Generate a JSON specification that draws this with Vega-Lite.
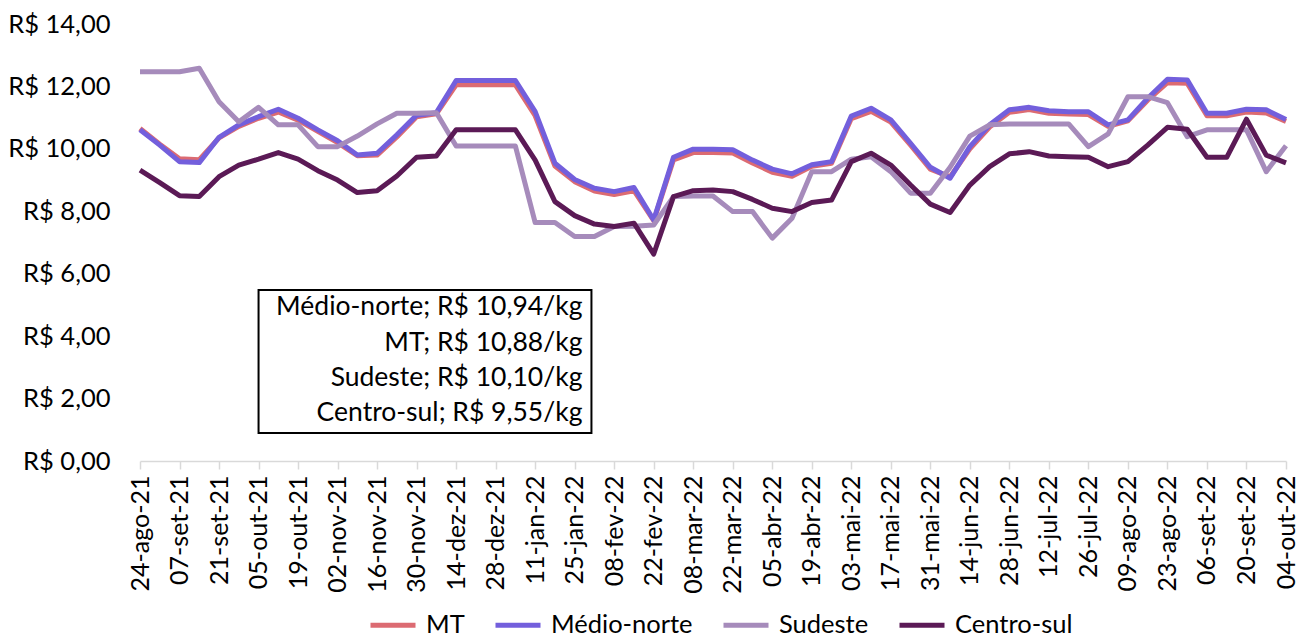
{
  "$schema": "https://vega.github.io/schema/vega-lite/v6.json",
  "width": 1146,
  "height": 437,
  "autosize": {"type": "none"},
  "padding": {"left": 140, "top": 24, "right": 17, "bottom": 180},
  "background": "white",
  "config": {
    "view": {"stroke": null},
    "font": "Lato",
    "axis": {"labelFont": "Lato", "labelColor": "#000000", "grid": false, "title": null}
  },
  "datasets": {
    "precos": [
      {"d": "24-ago-21", "MT": 10.65, "Médio-norte": 10.61, "Sudeste": 12.47, "Centro-sul": 9.32},
      {"d": "31-ago-21", "MT": 10.15, "Médio-norte": 10.12, "Sudeste": 12.47, "Centro-sul": 8.92},
      {"d": "07-set-21", "MT": 9.68, "Médio-norte": 9.59, "Sudeste": 12.47, "Centro-sul": 8.50},
      {"d": "14-set-21", "MT": 9.65, "Médio-norte": 9.56, "Sudeste": 12.58, "Centro-sul": 8.47},
      {"d": "21-set-21", "MT": 10.35, "Médio-norte": 10.37, "Sudeste": 11.51, "Centro-sul": 9.11},
      {"d": "28-set-21", "MT": 10.72, "Médio-norte": 10.77, "Sudeste": 10.87, "Centro-sul": 9.48},
      {"d": "05-out-21", "MT": 10.98, "Médio-norte": 11.03, "Sudeste": 11.33, "Centro-sul": 9.67},
      {"d": "12-out-21", "MT": 11.18, "Médio-norte": 11.27, "Sudeste": 10.77, "Centro-sul": 9.88},
      {"d": "19-out-21", "MT": 10.92, "Médio-norte": 10.98, "Sudeste": 10.77, "Centro-sul": 9.67},
      {"d": "26-out-21", "MT": 10.56, "Médio-norte": 10.61, "Sudeste": 10.07, "Centro-sul": 9.30},
      {"d": "02-nov-21", "MT": 10.20, "Médio-norte": 10.26, "Sudeste": 10.07, "Centro-sul": 9.00},
      {"d": "09-nov-21", "MT": 9.78, "Médio-norte": 9.80, "Sudeste": 10.41, "Centro-sul": 8.60},
      {"d": "16-nov-21", "MT": 9.80, "Médio-norte": 9.86, "Sudeste": 10.80, "Centro-sul": 8.66},
      {"d": "23-nov-21", "MT": 10.38, "Médio-norte": 10.45, "Sudeste": 11.14, "Centro-sul": 9.13},
      {"d": "30-nov-21", "MT": 11.03, "Médio-norte": 11.08, "Sudeste": 11.14, "Centro-sul": 9.73},
      {"d": "07-dez-21", "MT": 11.12, "Médio-norte": 11.16, "Sudeste": 11.16, "Centro-sul": 9.77},
      {"d": "14-dez-21", "MT": 12.05, "Médio-norte": 12.19, "Sudeste": 10.09, "Centro-sul": 10.61},
      {"d": "21-dez-21", "MT": 12.05, "Médio-norte": 12.19, "Sudeste": 10.09, "Centro-sul": 10.61},
      {"d": "28-dez-21", "MT": 12.05, "Médio-norte": 12.19, "Sudeste": 10.09, "Centro-sul": 10.61},
      {"d": "04-jan-22", "MT": 12.05, "Médio-norte": 12.19, "Sudeste": 10.09, "Centro-sul": 10.61},
      {"d": "11-jan-22", "MT": 11.06, "Médio-norte": 11.19, "Sudeste": 7.64, "Centro-sul": 9.64},
      {"d": "18-jan-22", "MT": 9.45, "Médio-norte": 9.54, "Sudeste": 7.64, "Centro-sul": 8.31},
      {"d": "25-jan-22", "MT": 8.95, "Médio-norte": 9.02, "Sudeste": 7.19, "Centro-sul": 7.86},
      {"d": "01-fev-22", "MT": 8.65, "Médio-norte": 8.74, "Sudeste": 7.19, "Centro-sul": 7.59},
      {"d": "08-fev-22", "MT": 8.54, "Médio-norte": 8.63, "Sudeste": 7.51, "Centro-sul": 7.51},
      {"d": "15-fev-22", "MT": 8.66, "Médio-norte": 8.76, "Sudeste": 7.52, "Centro-sul": 7.62},
      {"d": "22-fev-22", "MT": 7.70, "Médio-norte": 7.72, "Sudeste": 7.56, "Centro-sul": 6.63},
      {"d": "01-mar-22", "MT": 9.65, "Médio-norte": 9.73, "Sudeste": 8.47, "Centro-sul": 8.47},
      {"d": "08-mar-22", "MT": 9.88, "Médio-norte": 9.99, "Sudeste": 8.49, "Centro-sul": 8.66},
      {"d": "15-mar-22", "MT": 9.88, "Médio-norte": 9.99, "Sudeste": 8.49, "Centro-sul": 8.68},
      {"d": "22-mar-22", "MT": 9.87, "Médio-norte": 9.97, "Sudeste": 7.99, "Centro-sul": 8.63},
      {"d": "29-mar-22", "MT": 9.55, "Médio-norte": 9.64, "Sudeste": 7.99, "Centro-sul": 8.38},
      {"d": "05-abr-22", "MT": 9.25, "Médio-norte": 9.35, "Sudeste": 7.14, "Centro-sul": 8.10},
      {"d": "12-abr-22", "MT": 9.12, "Médio-norte": 9.20, "Sudeste": 7.78, "Centro-sul": 7.99},
      {"d": "19-abr-22", "MT": 9.44, "Médio-norte": 9.49, "Sudeste": 9.27, "Centro-sul": 8.28},
      {"d": "26-abr-22", "MT": 9.54, "Médio-norte": 9.59, "Sudeste": 9.27, "Centro-sul": 8.36},
      {"d": "03-mai-22", "MT": 10.97, "Médio-norte": 11.05, "Sudeste": 9.67, "Centro-sul": 9.59},
      {"d": "10-mai-22", "MT": 11.20, "Médio-norte": 11.30, "Sudeste": 9.75, "Centro-sul": 9.86},
      {"d": "17-mai-22", "MT": 10.86, "Médio-norte": 10.93, "Sudeste": 9.27, "Centro-sul": 9.48},
      {"d": "24-mai-22", "MT": 10.12, "Médio-norte": 10.18, "Sudeste": 8.58, "Centro-sul": 8.84},
      {"d": "31-mai-22", "MT": 9.35, "Médio-norte": 9.41, "Sudeste": 8.58, "Centro-sul": 8.23},
      {"d": "07-jun-22", "MT": 9.10, "Médio-norte": 9.06, "Sudeste": 9.41, "Centro-sul": 7.96},
      {"d": "14-jun-22", "MT": 10.00, "Médio-norte": 10.07, "Sudeste": 10.41, "Centro-sul": 8.84},
      {"d": "21-jun-22", "MT": 10.70, "Médio-norte": 10.77, "Sudeste": 10.77, "Centro-sul": 9.43},
      {"d": "28-jun-22", "MT": 11.17, "Médio-norte": 11.25, "Sudeste": 10.80, "Centro-sul": 9.84},
      {"d": "05-jul-22", "MT": 11.26, "Médio-norte": 11.33, "Sudeste": 10.80, "Centro-sul": 9.91},
      {"d": "12-jul-22", "MT": 11.14, "Médio-norte": 11.22, "Sudeste": 10.80, "Centro-sul": 9.77},
      {"d": "19-jul-22", "MT": 11.12, "Médio-norte": 11.19, "Sudeste": 10.80, "Centro-sul": 9.75},
      {"d": "26-jul-22", "MT": 11.10, "Médio-norte": 11.19, "Sudeste": 10.07, "Centro-sul": 9.73},
      {"d": "02-ago-22", "MT": 10.72, "Médio-norte": 10.77, "Sudeste": 10.48, "Centro-sul": 9.43},
      {"d": "09-ago-22", "MT": 10.90, "Médio-norte": 10.93, "Sudeste": 11.67, "Centro-sul": 9.59},
      {"d": "16-ago-22", "MT": 11.56, "Médio-norte": 11.62, "Sudeste": 11.67, "Centro-sul": 10.12},
      {"d": "23-ago-22", "MT": 12.12, "Médio-norte": 12.23, "Sudeste": 11.48, "Centro-sul": 10.69},
      {"d": "30-ago-22", "MT": 12.10, "Médio-norte": 12.21, "Sudeste": 10.39, "Centro-sul": 10.63},
      {"d": "06-set-22", "MT": 11.06, "Médio-norte": 11.14, "Sudeste": 10.61, "Centro-sul": 9.73},
      {"d": "13-set-22", "MT": 11.06, "Médio-norte": 11.14, "Sudeste": 10.61, "Centro-sul": 9.73},
      {"d": "20-set-22", "MT": 11.18, "Médio-norte": 11.27, "Sudeste": 10.61, "Centro-sul": 10.95},
      {"d": "27-set-22", "MT": 11.15, "Médio-norte": 11.25, "Sudeste": 9.27, "Centro-sul": 9.80},
      {"d": "04-out-22", "MT": 10.88, "Médio-norte": 10.94, "Sudeste": 10.10, "Centro-sul": 9.55}
    ],
    "caixa": [
      {"x1": "05-out-21", "x2": "01-fev-22", "y1": 0.90, "y2": 5.48}
    ],
    "rotulos": [
      {"x": "01-fev-22", "y": 4.92, "texto": "Médio-norte; R$ 10,94/kg"},
      {"x": "01-fev-22", "y": 3.78, "texto": "MT; R$ 10,88/kg"},
      {"x": "01-fev-22", "y": 2.65, "texto": "Sudeste; R$ 10,10/kg"},
      {"x": "01-fev-22", "y": 1.53, "texto": "Centro-sul; R$ 9,55/kg"}
    ]
  },
  "encoding": {
    "x": {
      "type": "ordinal",
      "scale": {
        "type": "point", "padding": 0,
        "domain": ["24-ago-21","31-ago-21","07-set-21","14-set-21","21-set-21","28-set-21","05-out-21","12-out-21","19-out-21","26-out-21","02-nov-21","09-nov-21","16-nov-21","23-nov-21","30-nov-21","07-dez-21","14-dez-21","21-dez-21","28-dez-21","04-jan-22","11-jan-22","18-jan-22","25-jan-22","01-fev-22","08-fev-22","15-fev-22","22-fev-22","01-mar-22","08-mar-22","15-mar-22","22-mar-22","29-mar-22","05-abr-22","12-abr-22","19-abr-22","26-abr-22","03-mai-22","10-mai-22","17-mai-22","24-mai-22","31-mai-22","07-jun-22","14-jun-22","21-jun-22","28-jun-22","05-jul-22","12-jul-22","19-jul-22","26-jul-22","02-ago-22","09-ago-22","16-ago-22","23-ago-22","30-ago-22","06-set-22","13-set-22","20-set-22","27-set-22","04-out-22"]
      },
      "axis": {
        "values": ["24-ago-21","07-set-21","21-set-21","05-out-21","19-out-21","02-nov-21","16-nov-21","30-nov-21","14-dez-21","28-dez-21","11-jan-22","25-jan-22","08-fev-22","22-fev-22","08-mar-22","22-mar-22","05-abr-22","19-abr-22","03-mai-22","17-mai-22","31-mai-22","14-jun-22","28-jun-22","12-jul-22","26-jul-22","09-ago-22","23-ago-22","06-set-22","20-set-22","04-out-22"],
        "labelAngle": -90,
        "labelFontSize": 25,
        "labelPadding": 6,
        "tickSize": 8,
        "tickColor": "#d9d9d9",
        "tickWidth": 1.5,
        "domainColor": "#d9d9d9",
        "domainWidth": 1.5,
        "labelOverlap": false
      }
    },
    "y": {
      "type": "quantitative",
      "scale": {"domain": [0, 14], "nice": false, "zero": true},
      "axis": {
        "values": [0, 2, 4, 6, 8, 10, 12, 14],
        "labelExpr": "'R$ ' + replace(format(datum.value, '.2f'), '.', ',')",
        "labelFontSize": 25.5,
        "labelPadding": 30,
        "ticks": false,
        "tickSize": 0,
        "domain": false
      }
    }
  },
  "layer": [
    {
      "data": {"name": "precos"},
      "transform": [
        {"fold": ["MT", "Médio-norte", "Sudeste", "Centro-sul"], "as": ["serie", "valor"]}
      ],
      "mark": {"type": "line", "strokeWidth": 5, "strokeJoin": "round", "strokeCap": "butt"},
      "encoding": {
        "x": {"field": "d"},
        "y": {"field": "valor"},
        "color": {
          "field": "serie", "type": "nominal",
          "scale": {
            "domain": ["MT", "Médio-norte", "Sudeste", "Centro-sul"],
            "range": ["#DC6B72", "#735FDC", "#A68BBB", "#5B1A56"]
          },
          "legend": {
            "title": null,
            "orient": "none",
            "direction": "horizontal",
            "legendX": 228,
            "legendY": 576,
            "symbolType": "stroke",
            "symbolSize": 2025,
            "symbolStrokeWidth": 5,
            "labelFontSize": 25.5,
            "labelFont": "Lato",
            "labelColor": "#000000",
            "labelOffset": 8,
            "columnPadding": 20
          }
        }
      }
    },
    {
      "data": {"name": "caixa"},
      "mark": {"type": "rect", "fill": "white", "stroke": "black", "strokeWidth": 2, "x2Offset": -3},
      "encoding": {
        "x": {"field": "x1"},
        "x2": {"field": "x2"},
        "y": {"field": "y1"},
        "y2": {"field": "y2"}
      }
    },
    {
      "data": {"name": "rotulos"},
      "mark": {"type": "text", "align": "right", "baseline": "middle", "dx": -12, "fontSize": 26.5, "font": "Lato", "color": "black"},
      "encoding": {
        "x": {"field": "x"},
        "y": {"field": "y"},
        "text": {"field": "texto"}
      }
    }
  ]
}
